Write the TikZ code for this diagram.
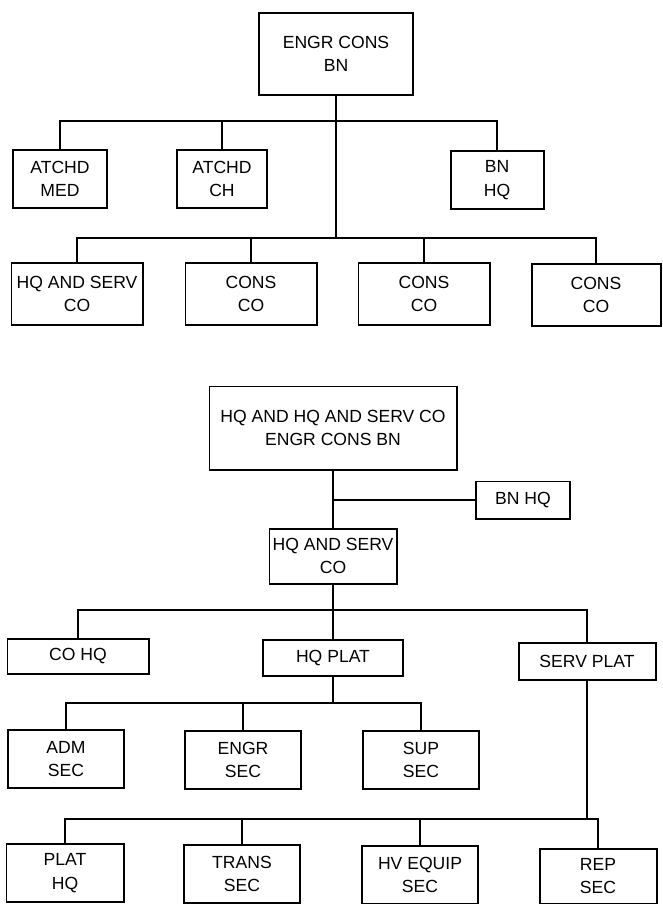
\documentclass[tikz,border=0pt]{standalone}
\usepackage{fontspec}
\setmainfont{Liberation Sans}
\usetikzlibrary{positioning}

\begin{document}
\begin{tikzpicture}[
  x=0.03cm, y=-0.03cm,
  unit/.style={rectangle, draw=black, line width=1.7pt, fill=white,
               align=center, inner sep=0pt,
               font=\fontsize{15}{20}\selectfont},
  twoline/.style={unit, minimum height=1.74cm},
  oneline/.style={unit, minimum height=1.08cm},
  conn/.style={line width=1.7pt, black},
]
\useasboundingbox (0,0) rectangle (662,904);

%% Chart 1: battalion
\node[unit, minimum width=4.62cm, minimum height=2.46cm] (engr) at (336,54)
      {ENGR CONS\\ BN};

%% Attached units and battalion HQ
\node[twoline, minimum width=2.82cm] (med)   at (60,179)    {ATCHD\\ MED};
\node[twoline, minimum width=2.70cm] (ch)    at (222,179)   {ATCHD\\ CH};
\node[twoline, minimum width=2.79cm] (bnhqA) at (497,180)   {BN\\ HQ};

%% Companies
\node[twoline, minimum width=3.93cm, minimum height=1.86cm] (hqsA)  at (77,294)
      {HQ AND SERV\\ CO};
\node[twoline, minimum width=3.93cm, minimum height=1.86cm] (consA) at (251,294)
      {CONS\\ CO};
\node[twoline, minimum width=3.93cm, minimum height=1.86cm] (consB) at (424,294)
      {CONS\\ CO};
\node[twoline, minimum width=3.87cm, minimum height=1.86cm] (consC) at (596,295)
      {CONS\\ CO};

%% Chart 1 connectors
\coordinate (busA) at (336,121);
\coordinate (busB) at (336,238);
\draw[conn] (engr.south) -- (busB);
\draw[conn] (busA) -| (med.north);
\draw[conn] (busA) -| (ch.north);
\draw[conn] (busA) -| (bnhqA.north);
\draw[conn] (busB) -| (hqsA.north);
\draw[conn] (busB) -| (consA.north);
\draw[conn] (busB) -| (consB.north);
\draw[conn] (busB) -| (consC.north);

%% Chart 2: headquarters and service company
\node[unit, minimum width=7.41cm, minimum height=2.49cm] (hqhq) at (333,428)
      {HQ AND HQ AND SERV CO\\ ENGR CONS BN};
\node[unit, minimum width=2.82cm, minimum height=1.11cm] (bnhqB) at (523,500)
      {BN HQ};
\node[unit, minimum width=3.81cm, minimum height=1.65cm] (hqsB) at (333,556)
      {HQ AND SERV\\ CO};

%% Platoons
\node[oneline, minimum width=4.23cm, minimum height=1.05cm] (cohq) at (78,656)
      {CO HQ};
\node[oneline, minimum width=4.20cm] (hqplat)   at (333,658) {HQ PLAT};
\node[oneline, minimum width=4.11cm, minimum height=1.11cm] (servplat) at (587,661)
      {SERV PLAT};

%% HQ platoon sections
\node[twoline, minimum width=3.48cm] (adm)     at (66,759)  {ADM\\ SEC};
\node[twoline, minimum width=3.48cm] (engrsec) at (243,760) {ENGR\\ SEC};
\node[twoline, minimum width=3.48cm] (sup)     at (421,760) {SUP\\ SEC};

%% Service platoon sections
\node[twoline, minimum width=3.51cm] (plathq)  at (65,873)  {PLAT\\ HQ};
\node[twoline, minimum width=3.48cm] (trans)   at (242,874) {TRANS\\ SEC};
\node[twoline, minimum width=3.48cm] (hvequip) at (420,875) {HV EQUIP\\ SEC};
\node[twoline, minimum width=3.51cm, minimum height=1.65cm] (rep) at (598,876)
      {REP\\ SEC};

%% Chart 2 connectors
\coordinate (busC) at (333,500);
\coordinate (busD) at (333,610);
\coordinate (busE) at (333,703);
\coordinate (busF) at (587,819);
\draw[conn] (hqhq.south) -- (hqsB.north);
\draw[conn] (busC) -- (bnhqB.west);
\draw[conn] (hqsB.south) -- (busD);
\draw[conn] (busD) -| (cohq.north);
\draw[conn] (busD) -| (hqplat.north);
\draw[conn] (busD) -| (servplat.north);
\draw[conn] (hqplat.south) -- (busE);
\draw[conn] (busE) -| (adm.north);
\draw[conn] (busE) -| (engrsec.north);
\draw[conn] (busE) -| (sup.north);
\draw[conn] (servplat.south) -- (busF);
\draw[conn] (busF) -| (plathq.north);
\draw[conn] (busF) -| (trans.north);
\draw[conn] (busF) -| (hvequip.north);
\draw[conn] (busF) -| (rep.north);

\end{tikzpicture}
\end{document}
